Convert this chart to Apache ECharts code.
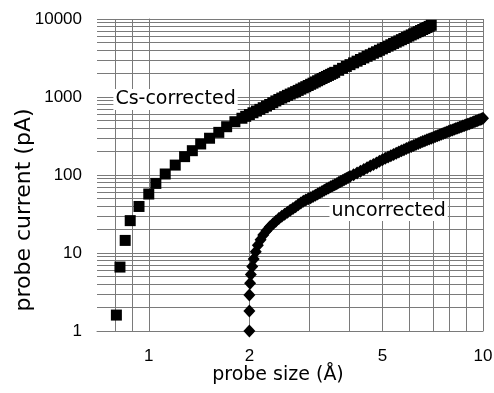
<!DOCTYPE html>
<html>
<head>
<meta charset="utf-8">
<script src="https://cdn.jsdelivr.net/npm/echarts@6/dist/echarts.min.js"></script>
<style>
html,body{margin:0;padding:0;background:#fff;}
#chart{width:494px;height:393px;}
</style>
</head>
<body>
<div id="chart"></div>
<script>
// ---- data (probe size in Å, probe current in pA) ----
const csSize = [0.80, 0.82, 0.85, 0.88, 0.935, 1.0, 1.05, 1.12, 1.2, 1.28, 1.35, 1.43, 1.52, 1.62, 1.71, 1.81,
  1.9, 1.95, 2.0, 2.05, 2.1, 2.15, 2.2, 2.25, 2.3, 2.35, 2.4, 2.45, 2.5, 2.55, 2.6, 2.65, 2.7, 2.75,
  2.8, 2.85, 2.9, 2.95, 3.0, 3.05, 3.1, 3.15, 3.2, 3.25, 3.3, 3.35, 3.4, 3.45, 3.5, 3.55, 3.6,
  3.7, 3.8, 3.9, 4.0, 4.1, 4.2, 4.3, 4.4, 4.5, 4.6, 4.7, 4.8, 4.9, 5.0, 5.1, 5.2, 5.3, 5.4, 5.5,
  5.6, 5.7, 5.8, 5.9, 6.0, 6.1, 6.2, 6.3, 6.4, 6.5, 6.6, 6.7, 6.8, 6.9, 7.0];
const csCurrent = [1.6, 6.6, 14.5, 26, 39.5, 57, 78, 103, 134, 172, 205, 250, 296, 352, 416, 482,
  534, 565, 596, 628, 660, 694, 729, 765, 801, 845, 890, 930, 970, 1010, 1050, 1090, 1130, 1172,
  1215, 1262, 1310, 1357, 1405, 1455, 1505, 1560, 1615, 1670, 1725, 1780, 1835, 1892, 1950, 2010, 2070,
  2200, 2330, 2465, 2600, 2740, 2880, 3025, 3170, 3325, 3480, 3640, 3800, 3970, 4140, 4315, 4490, 4675, 4860, 5050,
  5240, 5435, 5630, 5835, 6040, 6250, 6460, 6675, 6890, 7110, 7330, 7560, 7790, 8040, 8300];

const ucSize = [2.0, 2.0, 2.0, 2.01, 2.02, 2.04, 2.06, 2.09, 2.12, 2.16, 2.2, 2.25, 2.3, 2.35, 2.4, 2.45,
  2.5, 2.55, 2.6, 2.65, 2.7, 2.75, 2.8, 2.85, 2.9, 2.95, 3.0, 3.05, 3.1, 3.15, 3.2, 3.25, 3.3, 3.35,
  3.4, 3.45, 3.5, 3.55, 3.6, 3.65, 3.7, 3.75, 3.8, 3.85, 3.9, 3.95, 4.0,
  4.1, 4.2, 4.3, 4.4, 4.5, 4.6, 4.7, 4.8, 4.9, 5.0, 5.1, 5.2, 5.3, 5.4, 5.5, 5.6, 5.7, 5.8, 5.9,
  6.0, 6.1, 6.2, 6.3, 6.4, 6.5, 6.6, 6.7, 6.8, 6.9, 7.0, 7.1, 7.2, 7.3, 7.4, 7.5, 7.6, 7.7, 7.8, 7.9,
  8.0, 8.1, 8.2, 8.3, 8.4, 8.5, 8.6, 8.7, 8.8, 8.9, 9.0, 9.1, 9.2, 9.3, 9.4, 9.5, 9.6, 9.7, 9.8, 9.9, 10.0];
const ucCurrent = [1.0, 1.8, 2.9, 4.1, 5.3, 6.7, 8.4, 10.4, 12.6, 14.8, 17, 19.3, 21.5, 23.5, 25.5, 27.6,
  29.5, 31.4, 33.3, 35.2, 37.2, 39.3, 41.5, 43.7, 46, 47.8, 49.5, 51.2, 53, 55, 57, 59.2, 61.5, 63.7,
  66, 68.2, 70.5, 72.7, 75, 77.5, 80, 82.5, 85, 87.5, 90, 93, 96,
  101, 106, 112, 118, 124, 130, 136.5, 143, 150, 157, 163.5, 170, 176.5, 183, 190, 197, 204, 211, 218,
  225, 232, 239, 246.5, 254, 261, 268, 275.5, 283, 289.5, 296, 303.5, 311, 318.5, 326, 333.5, 341, 348.5, 356, 363.5,
  371, 378.5, 386, 393.5, 401, 409, 417, 424.5, 432, 439.5, 447, 455, 463, 471.5, 480, 488.5, 497, 505.5, 514, 523.5, 533];

// ---- axes ----
const xMin = 0.7, xMax = 10;
const yMin = 1, yMax = 10000;
const xTickLabels = [1, 2, 5, 10];
const yTickLabels = [1, 10, 100, 1000, 10000];
const xGridLines = [0.8, 0.9, 1, 2, 3, 4, 5, 6, 7, 8, 9, 10];
const yGridLines = [2, 3, 4, 5, 6, 7, 8, 9, 10, 20, 30, 40, 50, 60, 70, 80, 90, 100,
  200, 300, 400, 500, 600, 700, 800, 900, 1000, 2000, 3000, 4000, 5000, 6000, 7000, 8000, 9000, 10000];

// ---- annotation labels (anchored in data space) ----
const annotations = [
  { text: 'Cs-corrected', size: 0.781, current: 930 },
  { text: 'uncorrected', size: 3.46, current: 35 }
];

const lg = Math.log10;
const chart = echarts.init(document.getElementById('chart'), null, { renderer: 'canvas' });

const gridColor = '#7a7a7a';
const option = {
  animation: false,
  backgroundColor: '#fff',
  grid: { left: 97, right: 11, top: 19, bottom: 62, containLabel: false, outerBoundsMode: 'none' },
  xAxis: {
    type: 'value',
    min: lg(xMin),
    max: lg(xMax),
    name: 'probe size (Å)',
    nameLocation: 'middle',
    nameGap: 35,
    nameMoveOverlap: false,
    nameTextStyle: { fontFamily: 'DejaVu Sans', fontSize: 19, color: '#000', padding: [0, 24, 0, 0] },
    axisLine: { show: true, lineStyle: { color: gridColor, width: 1 } },
    axisTick: { show: false },
    splitLine: { show: false },
    axisLabel: {
      customValues: xTickLabels.map(v => lg(v)),
      formatter: v => String(Math.round(Math.pow(10, v))),
      fontFamily: 'Liberation Sans',
      fontSize: 17,
      color: '#000',
      margin: 17
    }
  },
  yAxis: {
    type: 'log',
    logBase: 10,
    min: yMin,
    max: yMax,
    name: 'probe current (pA)',
    nameLocation: 'middle',
    nameGap: 62,
    nameMoveOverlap: false,
    nameTextStyle: { fontFamily: 'DejaVu Sans', fontSize: 22, color: '#000', padding: [0, 70, 0, 0] },
    axisLine: { show: true, lineStyle: { color: gridColor, width: 1 } },
    axisTick: { show: false },
    splitLine: { show: false },
    axisLabel: {
      formatter: v => String(Math.round(v)),
      fontFamily: 'Liberation Sans',
      fontSize: 17,
      color: '#000',
      margin: 15
    }
  },
  series: [
    {
      type: 'scatter',
      name: 'grid',
      data: [],
      silent: true,
      z: 1,
      markLine: {
        silent: true,
        z: 1,
        symbol: ['none', 'none'],
        animation: false,
        label: { show: false },
        lineStyle: { color: gridColor, width: 1, type: 'solid' },
        emphasis: { disabled: true },
        data: xGridLines.map(v => ({ xAxis: lg(v) })).concat(yGridLines.map(v => ({ yAxis: v })))
      },
      markPoint: {
        silent: true,
        z: 2,
        symbol: 'circle',
        symbolSize: 1,
        itemStyle: { color: 'rgba(0,0,0,0)' },
        label: {
          show: true,
          position: 'right',
          distance: 0,
          formatter: p => p.name,
          fontFamily: 'DejaVu Sans',
          fontSize: 19,
          color: '#000',
          backgroundColor: '#fff',
          padding: [1, 2, 1, 2]
        },
        data: annotations.map(a => ({ name: a.text, coord: [lg(a.size), a.current] }))
      }
    },
    {
      type: 'scatter',
      name: 'Cs-corrected',
      symbol: 'rect',
      symbolSize: 11,
      itemStyle: { color: '#000', opacity: 1 },
      emphasis: { disabled: true },
      z: 3,
      data: csSize.map((s, i) => [lg(s), csCurrent[i]])
    },
    {
      type: 'scatter',
      name: 'uncorrected',
      symbol: 'diamond',
      symbolSize: [12, 13],
      itemStyle: { color: '#000', opacity: 1 },
      emphasis: { disabled: true },
      z: 3,
      data: ucSize.map((s, i) => [lg(s), ucCurrent[i]])
    }
  ]
};
chart.setOption(option);
</script>
</body>
</html>
